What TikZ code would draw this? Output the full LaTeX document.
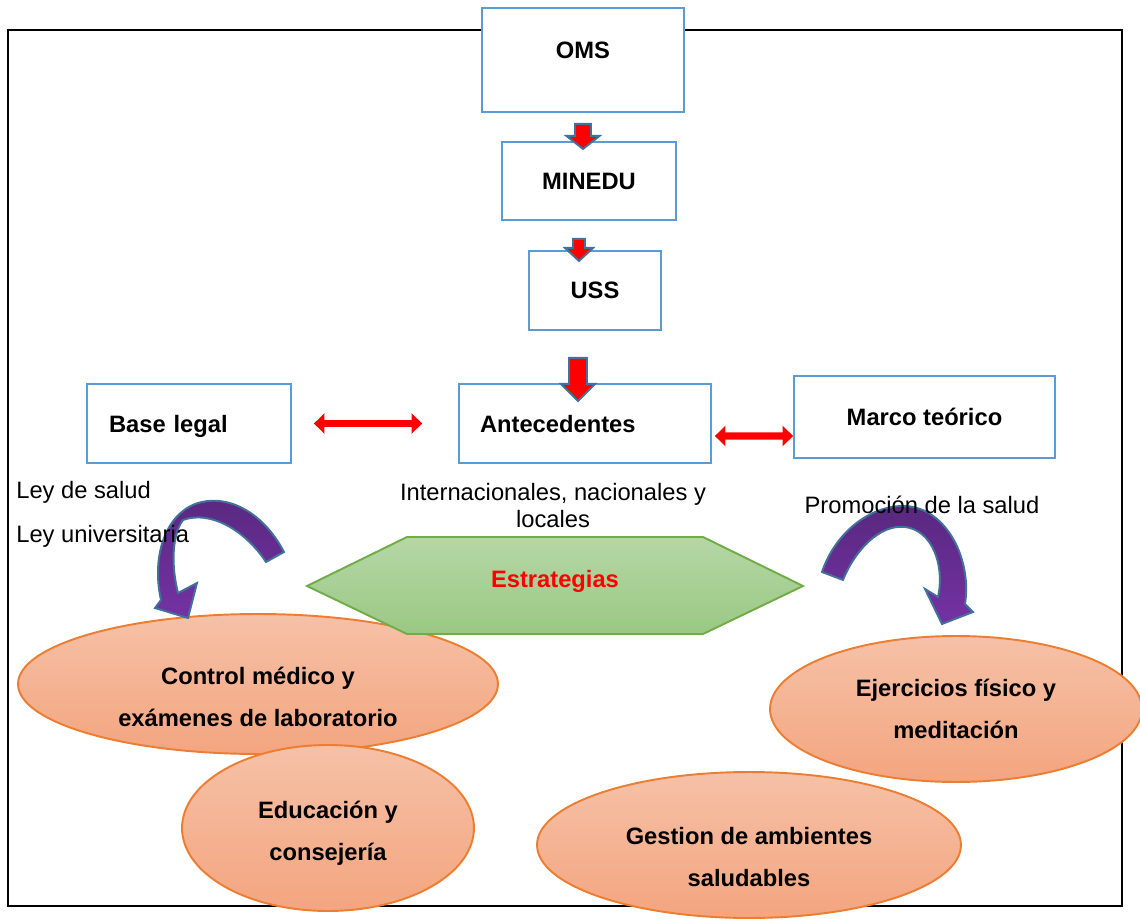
\documentclass[tikz,border=0pt]{standalone}
\usepackage{fontspec}
\setmainfont{Liberation Sans}
\usepackage{tikz}
\usetikzlibrary{shapes.geometric,arrows.meta}

\definecolor{boxblue}{HTML}{5B9BD5}
\definecolor{arrowblue}{HTML}{41719C}
\definecolor{hexline}{HTML}{70AD47}
\definecolor{hextop}{HTML}{B5D7A5}
\definecolor{hexbot}{HTML}{9BC884}
\definecolor{ovalline}{HTML}{ED7D31}
\definecolor{ovaltop}{HTML}{F6C1A7}
\definecolor{ovalbot}{HTML}{F3A57F}
\definecolor{purptop}{HTML}{58287F}
\definecolor{purpbot}{HTML}{7432A3}

\begin{document}
\begin{tikzpicture}[x=0.02cm, y=-0.02cm,
  font=\fontsize{13.5}{16}\selectfont,
  box/.style={draw=boxblue, line width=1.1pt, fill=white, inner sep=0pt,
    font=\fontsize{13.5}{16}\selectfont\bfseries},
  oval/.style={ellipse, draw=ovalline, line width=1.1pt, inner sep=0pt,
    top color=ovaltop, bottom color=ovalbot},
  ovaltext/.style={align=center, inner sep=0pt,
    font=\fontsize{13.5}{24}\selectfont\bfseries},
  blockarrow/.style={draw=arrowblue, line width=1.1pt, fill=red, line join=miter},
  bentarrow/.style={draw=arrowblue, line width=1.1pt, top color=purptop, bottom color=purpbot},
  twoway/.style={red, line width=4pt, {Triangle[length=6pt,width=11.5pt]}-{Triangle[length=6pt,width=11.5pt]}},
  txt/.style={inner sep=0pt}]
  \useasboundingbox (0,0) rectangle (1140,919);
  % Frame
  \draw[line width=1.4pt] (8,30) rectangle (1122,906);
  % Boxes
  \node[box, minimum width=4.04cm, minimum height=2.08cm, text depth=11.4pt] (oms) at (583,60) {OMS};
  \node[box, minimum width=3.48cm, minimum height=1.56cm, text depth=-1.5pt] (minedu) at (589,181) {MINEDU};
  \node[box, minimum width=2.64cm, minimum height=1.58cm, text depth=-2pt] (uss) at (595,290.5) {USS};
  \node[box, minimum width=4.08cm, minimum height=1.58cm, inner xsep=0.44cm,
    text width=3.2cm, align=left, text depth=-2pt] (base) at (189,423.5) {Base legal};
  \node[box, minimum width=5.04cm, minimum height=1.58cm, inner xsep=0.42cm,
    text width=4.2cm, align=left, text depth=-2pt] (ante) at (585,423.5) {Antecedentes};
  \node[box, minimum width=5.22cm, minimum height=1.64cm] (marco) at (924.5,417) {Marco teórico};
  % Block arrows
  \draw[blockarrow] (oms.south) ++(-8,11) -- ++(16,0) -- ++(0,12) -- ++(8.5,0)
    -- ++(-16.5,13) -- ++(-16.5,-13) -- ++(8.5,0) -- cycle;
  \draw[blockarrow] (minedu.south) ++(-16,18) -- ++(12,0) -- ++(0,9) -- ++(8,0)
    -- ++(-14,13) -- ++(-14,-13) -- ++(8,0) -- cycle;
  \draw[blockarrow] (uss.south) ++(-26,27) -- ++(18,0) -- ++(0,26) -- ++(8,0)
    -- ++(-17,17) -- ++(-17,-17) -- ++(8,0) -- cycle;
  % Two-way arrows
  \draw[twoway, shorten <=0.44cm, shorten >=0.72cm] (base.east) -- (ante.west);
  \draw[twoway] ([shift={(3,12.5)}]ante.east) -- ([shift={(0,19)}]marco.west);
  % Strategies
  \node[oval, minimum width=9.6cm, minimum height=2.8cm,
    label={[ovaltext, yshift=-7.4pt]center:{Control médico y\\exámenes de laboratorio}}] (control) at (258,684) {};
  \draw[hexline, line width=1.1pt, top color=hextop, bottom color=hexbot]
    (307,586) -- (407,537) -- (703,537) -- (803,586) -- (703,634) -- (407,634) -- cycle;
  \node[txt, red, font=\fontsize{13.5}{16}\selectfont\bfseries] (estr) at (555,581) {Estrategias};
  \node[oval, minimum width=5.84cm, minimum height=3.32cm,
    label={[ovaltext, yshift=-2.8pt]center:{Educación y\\consejería}}] (educ) at (328,828) {};
  \node[oval, minimum width=7.44cm, minimum height=2.92cm,
    label={[ovaltext]center:{Ejercicios físico y\\meditación}}] (ejer) at (956,709) {};
  \node[oval, minimum width=8.48cm, minimum height=2.92cm,
    label={[ovaltext, yshift=-6.8pt]center:{Gestion de ambientes\\saludables}}] (gest) at (749,845) {};
  % Curved arrows
  \draw[bentarrow] (284,552) .. controls (262,510) and (225,493) .. (195,504)
    .. controls (163,517) and (152,560) .. (161,600) -- (155,608) -- (188,618)
    -- (197,583) -- (178,593) .. controls (171,565) and (172,535) .. (183,520)
    .. controls (210,510) and (245,530) .. (266,562) -- cycle;
  \draw[bentarrow] (822,572) .. controls (835,533) and (870,505) .. (905,506)
    .. controls (947,508) and (972,560) .. (965,604) -- (973,612) -- (942,624)
    -- (925,589) -- (938,597) .. controls (945,565) and (932,530) .. (905,527)
    .. controls (880,524) and (855,550) .. (843,580) -- cycle;
  % Texts
  \node[txt, anchor=west] (leysalud) at (16,492) {Ley de salud};
  \node[txt, anchor=west] (leyuni) at (16,536) {Ley universitaria};
  \node[txt, align=center, font=\fontsize{13.5}{15.4}\selectfont] (inter) at (553,505.5)
    {Internacionales, nacionales y\\locales};
  \node[txt] (promo) at (922,505) {Promoción de la salud};
\end{tikzpicture}
\end{document}
